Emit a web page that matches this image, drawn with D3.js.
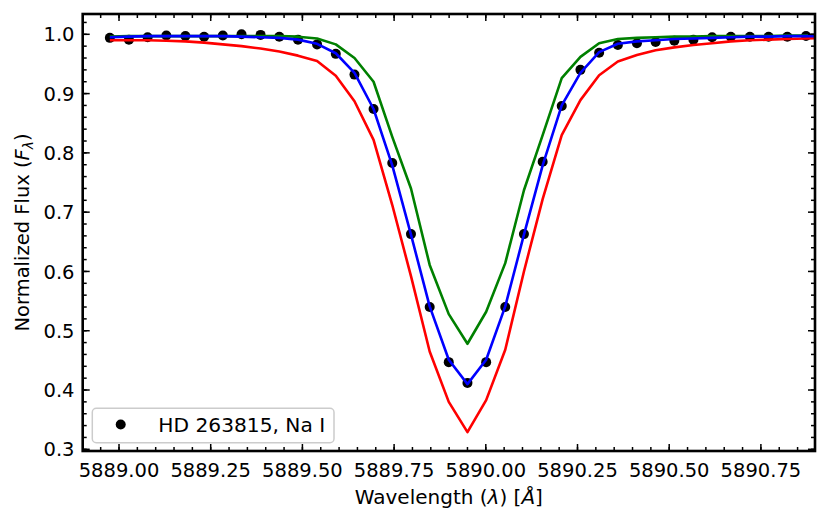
<!DOCTYPE html>
<html>
<head>
<meta charset="utf-8">
<script src="https://cdn.jsdelivr.net/npm/d3@7"></script>
<style>
  html, body { margin: 0; padding: 0; background: #fff; }
  svg { display: block; }
  text { font-family: "DejaVu Sans", sans-serif; }
</style>
</head>
<body>
<svg id="chart" width="830" height="530"></svg>
<script>
// ---- Data ----
const obsWave = [5888.975, 5889.027, 5889.078, 5889.129, 5889.181, 5889.232, 5889.283, 5889.334,
  5889.386, 5889.437, 5889.488, 5889.540, 5889.591, 5889.642, 5889.694, 5889.745, 5889.796,
  5889.847, 5889.899, 5889.950, 5890.001, 5890.053, 5890.104, 5890.155, 5890.207, 5890.258,
  5890.309, 5890.360, 5890.412, 5890.463, 5890.514, 5890.566, 5890.617, 5890.668, 5890.720,
  5890.771, 5890.822, 5890.873];
const obsFlux = [0.994, 0.991, 0.995, 0.998, 0.997, 0.996, 0.998, 1.000,
  0.999, 0.996, 0.991, 0.983, 0.967, 0.932, 0.874, 0.783, 0.663,
  0.540, 0.447, 0.412, 0.447, 0.540, 0.663, 0.785, 0.879, 0.940,
  0.969, 0.982, 0.985, 0.987, 0.989, 0.991, 0.995, 0.996, 0.996,
  0.996, 0.996, 0.997];

const modelWave = [5888.975, 5889.027, 5889.078, 5889.129, 5889.181, 5889.232, 5889.283, 5889.334,
  5889.386, 5889.437, 5889.488, 5889.540, 5889.591, 5889.642, 5889.694, 5889.745, 5889.796,
  5889.847, 5889.899, 5889.950, 5890.001, 5890.053, 5890.104, 5890.155, 5890.207, 5890.258,
  5890.309, 5890.360, 5890.412, 5890.463, 5890.514, 5890.566, 5890.617, 5890.668, 5890.720,
  5890.771, 5890.822, 5890.873, 5890.925];
const modelRed = [0.990, 0.990, 0.990, 0.989, 0.988, 0.986, 0.983, 0.980,
  0.976, 0.971, 0.964, 0.955, 0.930, 0.887, 0.822, 0.712, 0.592,
  0.465, 0.380, 0.329, 0.383, 0.468, 0.600, 0.722, 0.830, 0.889,
  0.931, 0.954, 0.965, 0.973, 0.978, 0.982, 0.985, 0.988, 0.990,
  0.991, 0.992, 0.993, 0.994];
const modelGreen = [0.996, 0.997, 0.997, 0.997, 0.997, 0.997, 0.997, 0.997,
  0.997, 0.997, 0.996, 0.993, 0.983, 0.960, 0.920, 0.827, 0.740,
  0.611, 0.528, 0.478, 0.532, 0.614, 0.737, 0.830, 0.926, 0.962,
  0.985, 0.992, 0.994, 0.995, 0.996, 0.996, 0.997, 0.997, 0.997,
  0.997, 0.998, 0.998, 0.998];
const modelBlue = [0.995, 0.996, 0.997, 0.997, 0.997, 0.997, 0.997, 0.996,
  0.995, 0.994, 0.991, 0.984, 0.968, 0.935, 0.874, 0.779, 0.662,
  0.541, 0.451, 0.410, 0.451, 0.541, 0.662, 0.779, 0.880, 0.935,
  0.970, 0.984, 0.988, 0.990, 0.992, 0.993, 0.994, 0.995, 0.996,
  0.996, 0.997, 0.997, 0.997];

const xTicks = [5889.00, 5889.25, 5889.50, 5889.75, 5890.00, 5890.25, 5890.50, 5890.75];
const yTicks = [0.3, 0.4, 0.5, 0.6, 0.7, 0.8, 0.9, 1.0];
const legendLabel = "HD 263815, Na I";

// ---- Layout ----
const L = 82.7, R = 815, T = 14, B = 451;
const FS = 19.5;
const svg = d3.select("#chart");

const x = d3.scaleLinear().domain([5888.901, 5890.8975]).range([L, R]);
const y = d3.scaleLinear().domain([0.29713, 1.03424]).range([B, T]);

svg.append("defs").append("clipPath").attr("id", "clip")
  .append("rect").attr("x", L).attr("y", T).attr("width", R - L).attr("height", B - T);

const plot = svg.append("g").attr("clip-path", "url(#clip)");

// observed points
plot.selectAll("circle.obs").data(obsWave.map((w, i) => [w, obsFlux[i]]))
  .enter().append("circle").attr("class", "obs")
  .attr("cx", d => x(d[0])).attr("cy", d => y(d[1])).attr("r", 5)
  .attr("fill", "#000");

// model lines
const line = d3.line().x(d => x(d[0])).y(d => y(d[1]));
[[modelRed, "#ff0000"], [modelGreen, "#008000"], [modelBlue, "#0000ff"]].forEach(([vals, col]) => {
  plot.append("path")
    .datum(modelWave.map((w, i) => [w, vals[i]]))
    .attr("d", line).attr("fill", "none").attr("stroke", col)
    .attr("stroke-width", 2.6).attr("stroke-linejoin", "round");
});

// ---- Axes (ticks inward on all sides) ----
const xMinor = d3.range(5888.90, 5890.90, 0.05).filter(v => v >= x.domain()[0] - 1e-9 && v <= x.domain()[1] + 1e-9);
const yMinor = d3.range(0.30, 1.035, 0.02);

function tickLayer(sel) { return sel.attr("stroke", "#000").attr("stroke-width", 1.5); }

const ticks = svg.append("g");
xTicks.forEach(v => {
  ticks.append("line").attr("x1", x(v)).attr("x2", x(v)).attr("y1", B).attr("y2", B - 7).call(tickLayer);
  ticks.append("line").attr("x1", x(v)).attr("x2", x(v)).attr("y1", T).attr("y2", T + 7).call(tickLayer);
});
xMinor.forEach(v => {
  ticks.append("line").attr("x1", x(v)).attr("x2", x(v)).attr("y1", B).attr("y2", B - 4).call(tickLayer);
  ticks.append("line").attr("x1", x(v)).attr("x2", x(v)).attr("y1", T).attr("y2", T + 4).call(tickLayer);
});
yTicks.forEach(v => {
  ticks.append("line").attr("x1", L).attr("x2", L + 7).attr("y1", y(v)).attr("y2", y(v)).call(tickLayer);
  ticks.append("line").attr("x1", R).attr("x2", R - 7).attr("y1", y(v)).attr("y2", y(v)).call(tickLayer);
});
yMinor.forEach(v => {
  ticks.append("line").attr("x1", L).attr("x2", L + 4).attr("y1", y(v)).attr("y2", y(v)).call(tickLayer);
  ticks.append("line").attr("x1", R).attr("x2", R - 4).attr("y1", y(v)).attr("y2", y(v)).call(tickLayer);
});

// tick labels
svg.append("g").selectAll("text").data(xTicks).enter().append("text")
  .attr("x", d => x(d)).attr("y", 476.7).attr("text-anchor", "middle")
  .attr("font-size", FS).text(d => d3.format(".2f")(d));
svg.append("g").selectAll("text").data(yTicks).enter().append("text")
  .attr("x", 74.5).attr("y", d => y(d) + 0.3645 * FS).attr("text-anchor", "end")
  .attr("font-size", FS).text(d => d3.format(".1f")(d));

// spines
svg.append("rect").attr("x", L).attr("y", T).attr("width", R - L).attr("height", B - T)
  .attr("fill", "none").attr("stroke", "#000").attr("stroke-width", 2.6);

// axis labels
const xl = svg.append("text").attr("x", (L + R) / 2).attr("y", 503.5)
  .attr("text-anchor", "middle").attr("font-size", 20);
xl.append("tspan").text("Wavelength (");
xl.append("tspan").attr("font-style", "italic").text("λ");
xl.append("tspan").text(") [");
xl.append("tspan").attr("font-style", "italic").text("Å");
xl.append("tspan").text("]");

const yl = svg.append("text").attr("transform", `translate(29,${(T + B) / 2}) rotate(-90)`)
  .attr("text-anchor", "middle").attr("font-size", FS);
yl.append("tspan").text("Normalized Flux (");
yl.append("tspan").attr("font-style", "italic").text("F");
yl.append("tspan").attr("font-style", "italic").attr("font-size", FS * 0.7).attr("dy", 0.2 * FS).text("λ");
yl.append("tspan").attr("dy", -0.2 * FS).text(")");

// legend
const lg = svg.append("g");
lg.append("rect").attr("x", 92.3).attr("y", 408.3).attr("width", 241.7).attr("height", 34.4)
  .attr("rx", 4).attr("fill", "#fff").attr("fill-opacity", 0.8)
  .attr("stroke", "#cccccc").attr("stroke-width", 1.5);
lg.append("circle").attr("cx", 120.7).attr("cy", 424.5).attr("r", 5).attr("fill", "#000");
lg.append("text").attr("x", 158.3).attr("y", 431.5).attr("font-size", 20.2).text(legendLabel);
</script>
</body>
</html>
